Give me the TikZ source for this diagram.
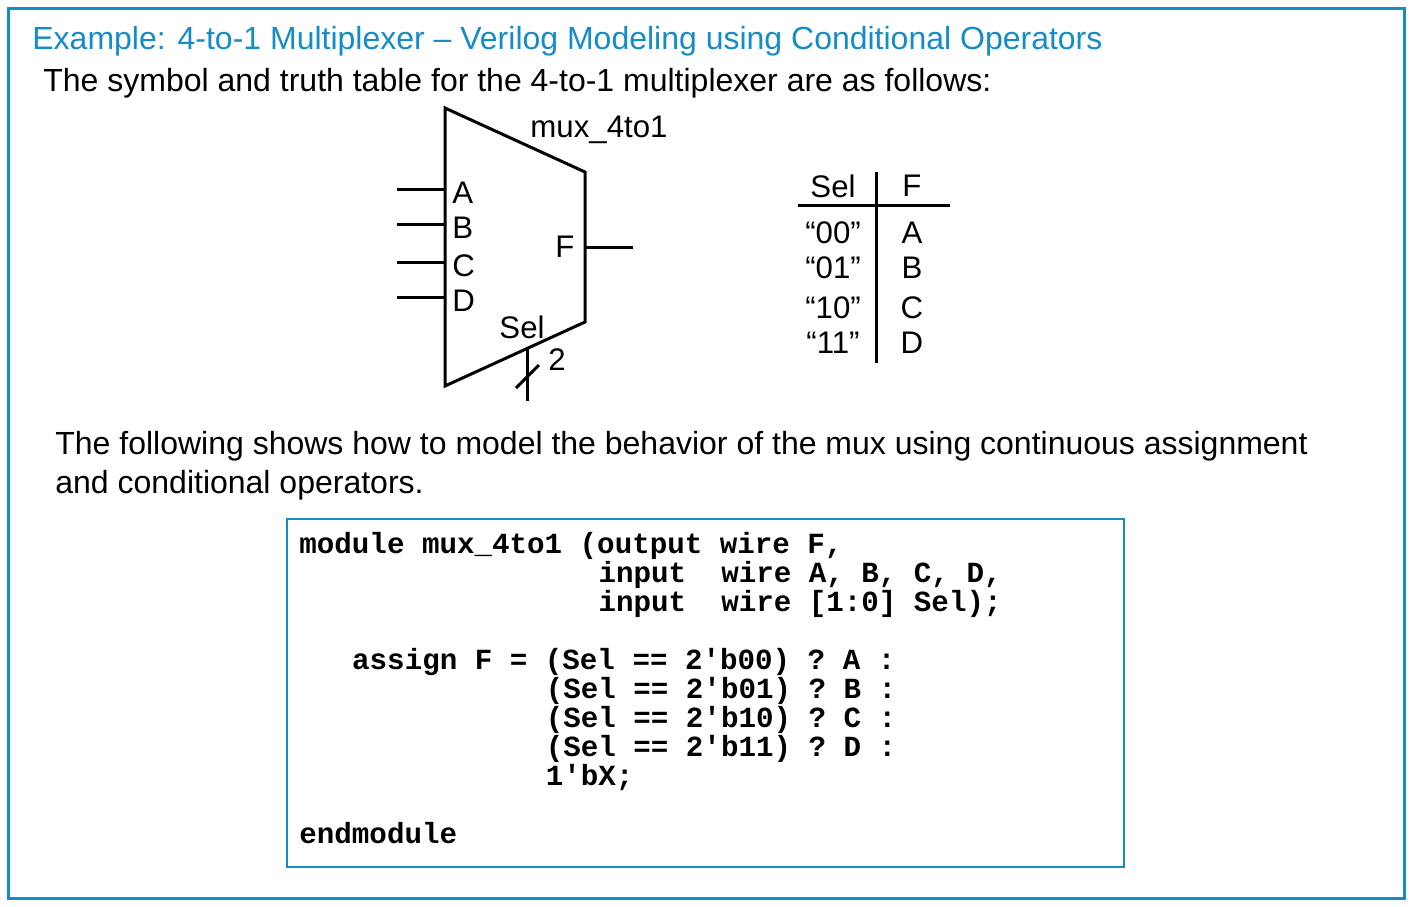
\documentclass[tikz,border=0pt]{standalone}
\usepackage{fontspec}
\setmainfont{Liberation Sans}
\setmonofont{Liberation Mono}
\definecolor{fb}{RGB}{20,140,200}
\begin{document}
\begin{tikzpicture}[x=0.5pt,y=-0.5pt,
  txt/.style={inner sep=0pt,anchor=base west,font=\fontsize{16}{19}\selectfont},
  lab/.style={inner sep=0pt,font=\fontsize{15.6}{18}\selectfont},
  code/.style={inner sep=0pt,anchor=base west,font=\fontsize{14.6}{17}\selectfont\ttfamily\bfseries},
  wire/.style={line width=1.5pt}]
\useasboundingbox (0,0) rectangle (1412,906);
\draw[fb,line width=1.5pt] (8,8) rectangle (1404,898);
\node[txt,text=fb] (title) at (32,49) {Example: 4-to-1 Multiplexer -- Verilog Modeling using Conditional Operators};
\node[txt] (l1) at (43,91) {The symbol and truth table for the 4-to-1 multiplexer are as follows:};
% mux
\draw[wire] (445,108) -- (585,172) -- (585,322) -- (445,386) -- cycle;
\foreach \y/\n in {189/A,224/B,262/C,297/D}{
  \coordinate (i\n) at (397,\y);
  \coordinate (p\n) at (445,\y);
  \draw[wire] (i\n) -- (p\n);
  \node[lab,anchor=west] at (452,\y+4) {\n};
}
\node[lab] (muxl) at (599,130) {mux\_4to1};
\node[lab] (fl) at (565,247) {F};
\coordinate (fo) at (585,247); \coordinate (fe) at (633,247);
\draw[wire] (fo) -- (fe);
\node[lab] (sl) at (522,327) {Sel};
\coordinate (s1) at (527,349); \coordinate (s2) at (527,401);
\draw[wire] (s1) -- (s2);
\draw[wire] (516,388) -- (539,365);
\node[lab] (two) at (557,360) {2};
% truth table
\draw[wire] (798,205) -- (950,205);
\draw[wire] (876,172) -- (876,363);
\node[lab] at (833,186) {Sel};
\node[lab] at (912,186) {F};
\foreach \y/\s/\f in {233/00/A,268/01/B,308/10/C,343/11/D}{
  \node[lab] at (833,\y) {``\s''};
  \node[lab] at (912,\y) {\f};
}
% paragraph
\node[txt] (p1) at (55,454) {The following shows how to model the behavior of the mux using continuous assignment};
\node[txt] (p2) at (55,493) {and conditional operators.};
% code
\draw[fb,line width=1pt] (287,519) rectangle (1124,867);
\def\cx#1{299+17.6*#1}
\node[code] at ({\cx{0}},553) {module mux\_4to1 (output wire F,};
\node[code] at ({\cx{17}},582) {input\ \ wire A, B, C, D,};
\node[code] at ({\cx{17}},611) {input\ \ wire [1:0] Sel);};
\node[code] at ({\cx{3}},669) {assign F = (Sel == 2'b00) ? A :};
\node[code] at ({\cx{14}},698) {(Sel == 2'b01) ? B :};
\node[code] at ({\cx{14}},727) {(Sel == 2'b10) ? C :};
\node[code] at ({\cx{14}},756) {(Sel == 2'b11) ? D :};
\node[code] at ({\cx{14}},785) {1'bX;};
\node[code] at ({\cx{0}},843) {endmodule};
\end{tikzpicture}
\end{document}
